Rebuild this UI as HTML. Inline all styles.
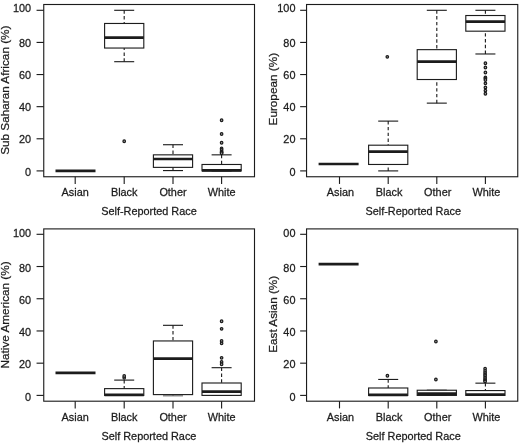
<!DOCTYPE html>
<html><head><meta charset="utf-8"><title>Boxplots</title>
<style>
html,body{margin:0;padding:0;background:#fff;}
svg{display:block;}
text{font-family:"Liberation Sans",Arial,sans-serif;fill:#1c1c1c;stroke:#1c1c1c;stroke-width:0.25px;}
</style></head>
<body>
<svg width="520" height="444" viewBox="0 0 520 444">
<rect width="520" height="444" fill="#fff"/>
<rect x="43.75" y="4.5" width="210.75" height="172.25" fill="#fff" stroke="#1c1c1c" stroke-width="1.12"/>
<line x1="36.55" y1="170.90" x2="43.75" y2="170.90" stroke="#1c1c1c" stroke-width="1.12"/>
<text transform="translate(31.05,175.60) scale(1,1.07)" text-anchor="end" font-size="10.9">0</text>
<line x1="36.55" y1="138.78" x2="43.75" y2="138.78" stroke="#1c1c1c" stroke-width="1.12"/>
<text transform="translate(31.05,143.48) scale(1,1.07)" text-anchor="end" font-size="10.9">20</text>
<line x1="36.55" y1="106.66" x2="43.75" y2="106.66" stroke="#1c1c1c" stroke-width="1.12"/>
<text transform="translate(31.05,111.36) scale(1,1.07)" text-anchor="end" font-size="10.9">40</text>
<line x1="36.55" y1="74.54" x2="43.75" y2="74.54" stroke="#1c1c1c" stroke-width="1.12"/>
<text transform="translate(31.05,79.24) scale(1,1.07)" text-anchor="end" font-size="10.9">60</text>
<line x1="36.55" y1="42.42" x2="43.75" y2="42.42" stroke="#1c1c1c" stroke-width="1.12"/>
<text transform="translate(31.05,47.12) scale(1,1.07)" text-anchor="end" font-size="10.9">80</text>
<line x1="36.55" y1="10.30" x2="43.75" y2="10.30" stroke="#1c1c1c" stroke-width="1.12"/>
<text transform="translate(31.05,12.10) scale(1,1.07)" text-anchor="end" font-size="10.9">100</text>
<line x1="75.2" y1="176.75" x2="75.2" y2="183.95" stroke="#1c1c1c" stroke-width="1.12"/>
<text transform="translate(75.2,195.8) scale(1,1.07)" text-anchor="middle" font-size="10.9">Asian</text>
<line x1="124.2" y1="176.75" x2="124.2" y2="183.95" stroke="#1c1c1c" stroke-width="1.12"/>
<text transform="translate(124.2,195.8) scale(1,1.07)" text-anchor="middle" font-size="10.9">Black</text>
<line x1="173.0" y1="176.75" x2="173.0" y2="183.95" stroke="#1c1c1c" stroke-width="1.12"/>
<text transform="translate(173.0,195.8) scale(1,1.07)" text-anchor="middle" font-size="10.9">Other</text>
<line x1="221.6" y1="176.75" x2="221.6" y2="183.95" stroke="#1c1c1c" stroke-width="1.12"/>
<text transform="translate(221.6,195.8) scale(1,1.07)" text-anchor="middle" font-size="10.9">White</text>
<text transform="translate(148.925,214.5) scale(1,1.07)" text-anchor="middle" font-size="10.9">Self-Reported Race</text>
<text transform="translate(9.2,90.2) rotate(-90)" text-anchor="middle" font-size="11.75">Sub Saharan African (%)</text>
<line x1="55.5" y1="170.90" x2="95.5" y2="170.90" stroke="#1c1c1c" stroke-width="2.7"/>
<line x1="124.2" y1="10.30" x2="124.2" y2="23.47" stroke="#1c1c1c" stroke-width="1.12" stroke-dasharray="3.4 2.4"/>
<line x1="124.2" y1="61.69" x2="124.2" y2="48.04" stroke="#1c1c1c" stroke-width="1.12" stroke-dasharray="3.4 2.4"/>
<line x1="114.2" y1="10.30" x2="134.2" y2="10.30" stroke="#1c1c1c" stroke-width="1.12"/>
<line x1="114.2" y1="61.69" x2="134.2" y2="61.69" stroke="#1c1c1c" stroke-width="1.12"/>
<rect x="104.6" y="23.47" width="39.2" height="24.57" fill="#fff" stroke="#1c1c1c" stroke-width="1.12"/>
<line x1="104.6" y1="37.60" x2="143.8" y2="37.60" stroke="#1c1c1c" stroke-width="2.7"/>
<ellipse cx="124.2" cy="141.19" rx="1.25" ry="1.35" fill="#aaa" stroke="#1c1c1c" stroke-width="1.25"/>
<line x1="173.0" y1="144.72" x2="173.0" y2="154.84" stroke="#1c1c1c" stroke-width="1.12" stroke-dasharray="3.4 2.4"/>
<line x1="173.0" y1="170.58" x2="173.0" y2="167.37" stroke="#1c1c1c" stroke-width="1.12" stroke-dasharray="3.4 2.4"/>
<line x1="163.0" y1="144.72" x2="183.0" y2="144.72" stroke="#1c1c1c" stroke-width="1.12"/>
<line x1="163.0" y1="170.58" x2="183.0" y2="170.58" stroke="#1c1c1c" stroke-width="1.12"/>
<rect x="153.4" y="154.84" width="39.2" height="12.53" fill="#fff" stroke="#1c1c1c" stroke-width="1.12"/>
<line x1="153.4" y1="159.02" x2="192.6" y2="159.02" stroke="#1c1c1c" stroke-width="2.7"/>
<line x1="221.6" y1="154.84" x2="221.6" y2="164.48" stroke="#1c1c1c" stroke-width="1.12" stroke-dasharray="3.4 2.4"/>
<line x1="211.6" y1="154.84" x2="231.6" y2="154.84" stroke="#1c1c1c" stroke-width="1.12"/>
<line x1="211.6" y1="170.90" x2="231.6" y2="170.90" stroke="#1c1c1c" stroke-width="1.12"/>
<rect x="202.0" y="164.48" width="39.2" height="6.42" fill="#fff" stroke="#1c1c1c" stroke-width="1.12"/>
<line x1="202.0" y1="170.42" x2="241.2" y2="170.42" stroke="#1c1c1c" stroke-width="2.7"/>
<ellipse cx="221.6" cy="120.31" rx="1.25" ry="1.35" fill="#aaa" stroke="#1c1c1c" stroke-width="1.25"/>
<ellipse cx="221.6" cy="133.96" rx="1.25" ry="1.35" fill="#aaa" stroke="#1c1c1c" stroke-width="1.25"/>
<ellipse cx="221.6" cy="142.80" rx="1.25" ry="1.35" fill="#aaa" stroke="#1c1c1c" stroke-width="1.25"/>
<ellipse cx="221.6" cy="148.42" rx="1.25" ry="1.35" fill="#aaa" stroke="#1c1c1c" stroke-width="1.25"/>
<ellipse cx="221.6" cy="150.02" rx="1.25" ry="1.35" fill="#aaa" stroke="#1c1c1c" stroke-width="1.25"/>
<ellipse cx="221.6" cy="151.63" rx="1.25" ry="1.35" fill="#aaa" stroke="#1c1c1c" stroke-width="1.25"/>
<ellipse cx="221.6" cy="152.43" rx="1.25" ry="1.35" fill="#aaa" stroke="#1c1c1c" stroke-width="1.25"/>
<ellipse cx="221.6" cy="153.23" rx="1.25" ry="1.35" fill="#aaa" stroke="#1c1c1c" stroke-width="1.25"/>
<rect x="306.55" y="4.5" width="211.2" height="172.25" fill="#fff" stroke="#1c1c1c" stroke-width="1.12"/>
<line x1="300.15000000000003" y1="170.90" x2="306.55" y2="170.90" stroke="#1c1c1c" stroke-width="1.12"/>
<text transform="translate(295.45,175.60) scale(1,1.07)" text-anchor="end" font-size="10.9">0</text>
<line x1="300.15000000000003" y1="138.78" x2="306.55" y2="138.78" stroke="#1c1c1c" stroke-width="1.12"/>
<text transform="translate(295.45,143.48) scale(1,1.07)" text-anchor="end" font-size="10.9">20</text>
<line x1="300.15000000000003" y1="106.66" x2="306.55" y2="106.66" stroke="#1c1c1c" stroke-width="1.12"/>
<text transform="translate(295.45,111.36) scale(1,1.07)" text-anchor="end" font-size="10.9">40</text>
<line x1="300.15000000000003" y1="74.54" x2="306.55" y2="74.54" stroke="#1c1c1c" stroke-width="1.12"/>
<text transform="translate(295.45,79.24) scale(1,1.07)" text-anchor="end" font-size="10.9">60</text>
<line x1="300.15000000000003" y1="42.42" x2="306.55" y2="42.42" stroke="#1c1c1c" stroke-width="1.12"/>
<text transform="translate(295.45,47.12) scale(1,1.07)" text-anchor="end" font-size="10.9">80</text>
<line x1="300.15000000000003" y1="10.30" x2="306.55" y2="10.30" stroke="#1c1c1c" stroke-width="1.12"/>
<text transform="translate(295.45,12.10) scale(1,1.07)" text-anchor="end" font-size="10.9">100</text>
<line x1="339.5" y1="176.75" x2="339.5" y2="183.95" stroke="#1c1c1c" stroke-width="1.12"/>
<text transform="translate(340.41,195.8) scale(1,1.07)" text-anchor="middle" font-size="10.9">Asian</text>
<line x1="388.2" y1="176.75" x2="388.2" y2="183.95" stroke="#1c1c1c" stroke-width="1.12"/>
<text transform="translate(389.11,195.8) scale(1,1.07)" text-anchor="middle" font-size="10.9">Black</text>
<line x1="436.8" y1="176.75" x2="436.8" y2="183.95" stroke="#1c1c1c" stroke-width="1.12"/>
<text transform="translate(437.71000000000004,195.8) scale(1,1.07)" text-anchor="middle" font-size="10.9">Other</text>
<line x1="485.4" y1="176.75" x2="485.4" y2="183.95" stroke="#1c1c1c" stroke-width="1.12"/>
<text transform="translate(486.31,195.8) scale(1,1.07)" text-anchor="middle" font-size="10.9">White</text>
<text transform="translate(413.25,214.5) scale(1,1.07)" text-anchor="middle" font-size="10.9">Self-Reported Race</text>
<text transform="translate(277.2,89.2) rotate(-90)" text-anchor="middle" font-size="11.75">European (%)</text>
<line x1="318.6" y1="163.99" x2="358.6" y2="163.99" stroke="#1c1c1c" stroke-width="2.7"/>
<line x1="388.2" y1="121.11" x2="388.2" y2="145.20" stroke="#1c1c1c" stroke-width="1.12" stroke-dasharray="3.4 2.4"/>
<line x1="388.2" y1="170.90" x2="388.2" y2="164.48" stroke="#1c1c1c" stroke-width="1.12" stroke-dasharray="3.4 2.4"/>
<line x1="378.2" y1="121.11" x2="398.2" y2="121.11" stroke="#1c1c1c" stroke-width="1.12"/>
<line x1="378.2" y1="170.90" x2="398.2" y2="170.90" stroke="#1c1c1c" stroke-width="1.12"/>
<rect x="368.59999999999997" y="145.20" width="39.2" height="19.27" fill="#fff" stroke="#1c1c1c" stroke-width="1.12"/>
<line x1="368.59999999999997" y1="151.63" x2="407.8" y2="151.63" stroke="#1c1c1c" stroke-width="2.7"/>
<ellipse cx="387.3" cy="56.87" rx="1.25" ry="1.35" fill="#aaa" stroke="#1c1c1c" stroke-width="1.25"/>
<line x1="436.8" y1="10.30" x2="436.8" y2="49.65" stroke="#1c1c1c" stroke-width="1.12" stroke-dasharray="3.4 2.4"/>
<line x1="436.8" y1="103.13" x2="436.8" y2="79.52" stroke="#1c1c1c" stroke-width="1.12" stroke-dasharray="3.4 2.4"/>
<line x1="426.8" y1="10.30" x2="446.8" y2="10.30" stroke="#1c1c1c" stroke-width="1.12"/>
<line x1="426.8" y1="103.13" x2="446.8" y2="103.13" stroke="#1c1c1c" stroke-width="1.12"/>
<rect x="417.2" y="49.65" width="39.2" height="29.87" fill="#fff" stroke="#1c1c1c" stroke-width="1.12"/>
<line x1="417.2" y1="61.69" x2="456.40000000000003" y2="61.69" stroke="#1c1c1c" stroke-width="2.7"/>
<line x1="485.4" y1="10.30" x2="485.4" y2="15.52" stroke="#1c1c1c" stroke-width="1.12" stroke-dasharray="3.4 2.4"/>
<line x1="485.4" y1="53.98" x2="485.4" y2="31.18" stroke="#1c1c1c" stroke-width="1.12" stroke-dasharray="3.4 2.4"/>
<line x1="475.4" y1="10.30" x2="495.4" y2="10.30" stroke="#1c1c1c" stroke-width="1.12"/>
<line x1="475.4" y1="53.98" x2="495.4" y2="53.98" stroke="#1c1c1c" stroke-width="1.12"/>
<rect x="465.79999999999995" y="15.52" width="39.2" height="15.66" fill="#fff" stroke="#1c1c1c" stroke-width="1.12"/>
<line x1="465.79999999999995" y1="21.54" x2="505.0" y2="21.54" stroke="#1c1c1c" stroke-width="2.7"/>
<ellipse cx="485.4" cy="63.30" rx="1.25" ry="1.35" fill="#aaa" stroke="#1c1c1c" stroke-width="1.25"/>
<ellipse cx="485.4" cy="67.47" rx="1.25" ry="1.35" fill="#aaa" stroke="#1c1c1c" stroke-width="1.25"/>
<ellipse cx="485.4" cy="72.45" rx="1.25" ry="1.35" fill="#aaa" stroke="#1c1c1c" stroke-width="1.25"/>
<ellipse cx="485.4" cy="77.43" rx="1.25" ry="1.35" fill="#aaa" stroke="#1c1c1c" stroke-width="1.25"/>
<ellipse cx="485.4" cy="78.39" rx="1.25" ry="1.35" fill="#aaa" stroke="#1c1c1c" stroke-width="1.25"/>
<ellipse cx="485.4" cy="80.00" rx="1.25" ry="1.35" fill="#aaa" stroke="#1c1c1c" stroke-width="1.25"/>
<ellipse cx="485.4" cy="83.37" rx="1.25" ry="1.35" fill="#aaa" stroke="#1c1c1c" stroke-width="1.25"/>
<ellipse cx="485.4" cy="87.39" rx="1.25" ry="1.35" fill="#aaa" stroke="#1c1c1c" stroke-width="1.25"/>
<ellipse cx="485.4" cy="90.60" rx="1.25" ry="1.35" fill="#aaa" stroke="#1c1c1c" stroke-width="1.25"/>
<ellipse cx="485.4" cy="93.81" rx="1.25" ry="1.35" fill="#aaa" stroke="#1c1c1c" stroke-width="1.25"/>
<rect x="43.75" y="228.9" width="210.75" height="172.29999999999998" fill="#fff" stroke="#1c1c1c" stroke-width="1.12"/>
<line x1="36.55" y1="395.40" x2="43.75" y2="395.40" stroke="#1c1c1c" stroke-width="1.12"/>
<text transform="translate(31.05,400.70) scale(1,1.07)" text-anchor="end" font-size="10.9">0</text>
<line x1="36.55" y1="363.18" x2="43.75" y2="363.18" stroke="#1c1c1c" stroke-width="1.12"/>
<text transform="translate(31.05,368.48) scale(1,1.07)" text-anchor="end" font-size="10.9">20</text>
<line x1="36.55" y1="330.96" x2="43.75" y2="330.96" stroke="#1c1c1c" stroke-width="1.12"/>
<text transform="translate(31.05,336.26) scale(1,1.07)" text-anchor="end" font-size="10.9">40</text>
<line x1="36.55" y1="298.74" x2="43.75" y2="298.74" stroke="#1c1c1c" stroke-width="1.12"/>
<text transform="translate(31.05,304.04) scale(1,1.07)" text-anchor="end" font-size="10.9">60</text>
<line x1="36.55" y1="266.52" x2="43.75" y2="266.52" stroke="#1c1c1c" stroke-width="1.12"/>
<text transform="translate(31.05,271.82) scale(1,1.07)" text-anchor="end" font-size="10.9">80</text>
<line x1="36.55" y1="234.30" x2="43.75" y2="234.30" stroke="#1c1c1c" stroke-width="1.12"/>
<text transform="translate(31.05,236.80) scale(1,1.07)" text-anchor="end" font-size="10.9">100</text>
<line x1="75.2" y1="401.2" x2="75.2" y2="408.4" stroke="#1c1c1c" stroke-width="1.12"/>
<text transform="translate(75.2,421.0) scale(1,1.07)" text-anchor="middle" font-size="10.9">Asian</text>
<line x1="124.2" y1="401.2" x2="124.2" y2="408.4" stroke="#1c1c1c" stroke-width="1.12"/>
<text transform="translate(124.2,421.0) scale(1,1.07)" text-anchor="middle" font-size="10.9">Black</text>
<line x1="173.0" y1="401.2" x2="173.0" y2="408.4" stroke="#1c1c1c" stroke-width="1.12"/>
<text transform="translate(173.0,421.0) scale(1,1.07)" text-anchor="middle" font-size="10.9">Other</text>
<line x1="221.6" y1="401.2" x2="221.6" y2="408.4" stroke="#1c1c1c" stroke-width="1.12"/>
<text transform="translate(221.6,421.0) scale(1,1.07)" text-anchor="middle" font-size="10.9">White</text>
<text transform="translate(148.925,439.6) scale(1,1.07)" text-anchor="middle" font-size="10.9">Self Reported Race</text>
<text transform="translate(9.2,314.9) rotate(-90)" text-anchor="middle" font-size="11.75">Native American (%)</text>
<line x1="55.5" y1="372.85" x2="95.5" y2="372.85" stroke="#1c1c1c" stroke-width="2.7"/>
<line x1="124.2" y1="380.10" x2="124.2" y2="388.63" stroke="#1c1c1c" stroke-width="1.12" stroke-dasharray="3.4 2.4"/>
<line x1="114.2" y1="380.10" x2="134.2" y2="380.10" stroke="#1c1c1c" stroke-width="1.12"/>
<line x1="114.2" y1="395.40" x2="134.2" y2="395.40" stroke="#1c1c1c" stroke-width="1.12"/>
<rect x="104.6" y="388.63" width="39.2" height="6.77" fill="#fff" stroke="#1c1c1c" stroke-width="1.12"/>
<line x1="104.6" y1="394.92" x2="143.8" y2="394.92" stroke="#1c1c1c" stroke-width="2.7"/>
<ellipse cx="124.2" cy="377.68" rx="1.25" ry="1.35" fill="#aaa" stroke="#1c1c1c" stroke-width="1.25"/>
<ellipse cx="124.2" cy="376.07" rx="1.25" ry="1.35" fill="#aaa" stroke="#1c1c1c" stroke-width="1.25"/>
<line x1="173.0" y1="325.32" x2="173.0" y2="340.95" stroke="#1c1c1c" stroke-width="1.12" stroke-dasharray="3.4 2.4"/>
<line x1="173.0" y1="395.80" x2="173.0" y2="394.59" stroke="#1c1c1c" stroke-width="1.12" stroke-dasharray="3.4 2.4"/>
<line x1="163.0" y1="325.32" x2="183.0" y2="325.32" stroke="#1c1c1c" stroke-width="1.12"/>
<rect x="153.4" y="340.95" width="39.2" height="53.65" fill="#fff" stroke="#1c1c1c" stroke-width="1.12"/>
<line x1="153.4" y1="358.67" x2="192.6" y2="358.67" stroke="#1c1c1c" stroke-width="2.7"/>
<line x1="163.0" y1="395.80" x2="183.0" y2="395.80" stroke="#666" stroke-width="1.12"/>
<line x1="221.6" y1="367.69" x2="221.6" y2="383.00" stroke="#1c1c1c" stroke-width="1.12" stroke-dasharray="3.4 2.4"/>
<line x1="211.6" y1="367.69" x2="231.6" y2="367.69" stroke="#1c1c1c" stroke-width="1.12"/>
<line x1="211.6" y1="395.40" x2="231.6" y2="395.40" stroke="#1c1c1c" stroke-width="1.12"/>
<rect x="202.0" y="383.00" width="39.2" height="12.40" fill="#fff" stroke="#1c1c1c" stroke-width="1.12"/>
<line x1="202.0" y1="391.53" x2="241.2" y2="391.53" stroke="#1c1c1c" stroke-width="2.7"/>
<ellipse cx="221.6" cy="321.29" rx="1.25" ry="1.35" fill="#aaa" stroke="#1c1c1c" stroke-width="1.25"/>
<ellipse cx="221.6" cy="328.87" rx="1.25" ry="1.35" fill="#aaa" stroke="#1c1c1c" stroke-width="1.25"/>
<ellipse cx="221.6" cy="340.95" rx="1.25" ry="1.35" fill="#aaa" stroke="#1c1c1c" stroke-width="1.25"/>
<ellipse cx="221.6" cy="343.36" rx="1.25" ry="1.35" fill="#aaa" stroke="#1c1c1c" stroke-width="1.25"/>
<ellipse cx="221.6" cy="357.86" rx="1.25" ry="1.35" fill="#aaa" stroke="#1c1c1c" stroke-width="1.25"/>
<ellipse cx="221.6" cy="361.89" rx="1.25" ry="1.35" fill="#aaa" stroke="#1c1c1c" stroke-width="1.25"/>
<ellipse cx="221.6" cy="364.31" rx="1.25" ry="1.35" fill="#aaa" stroke="#1c1c1c" stroke-width="1.25"/>
<rect x="306.55" y="228.9" width="211.2" height="172.29999999999998" fill="#fff" stroke="#1c1c1c" stroke-width="1.12"/>
<line x1="300.15000000000003" y1="395.40" x2="306.55" y2="395.40" stroke="#1c1c1c" stroke-width="1.12"/>
<text transform="translate(295.45,400.70) scale(1,1.07)" text-anchor="end" font-size="10.9">0</text>
<line x1="300.15000000000003" y1="363.18" x2="306.55" y2="363.18" stroke="#1c1c1c" stroke-width="1.12"/>
<text transform="translate(295.45,368.48) scale(1,1.07)" text-anchor="end" font-size="10.9">20</text>
<line x1="300.15000000000003" y1="330.96" x2="306.55" y2="330.96" stroke="#1c1c1c" stroke-width="1.12"/>
<text transform="translate(295.45,336.26) scale(1,1.07)" text-anchor="end" font-size="10.9">40</text>
<line x1="300.15000000000003" y1="298.74" x2="306.55" y2="298.74" stroke="#1c1c1c" stroke-width="1.12"/>
<text transform="translate(295.45,304.04) scale(1,1.07)" text-anchor="end" font-size="10.9">60</text>
<line x1="300.15000000000003" y1="266.52" x2="306.55" y2="266.52" stroke="#1c1c1c" stroke-width="1.12"/>
<text transform="translate(295.45,271.82) scale(1,1.07)" text-anchor="end" font-size="10.9">80</text>
<line x1="300.15000000000003" y1="234.30" x2="306.55" y2="234.30" stroke="#1c1c1c" stroke-width="1.12"/>
<text transform="translate(295.45,236.80) scale(1,1.07)" text-anchor="end" font-size="10.9">00</text>
<line x1="339.5" y1="401.2" x2="339.5" y2="408.4" stroke="#1c1c1c" stroke-width="1.12"/>
<text transform="translate(340.41,421.0) scale(1,1.07)" text-anchor="middle" font-size="10.9">Asian</text>
<line x1="388.2" y1="401.2" x2="388.2" y2="408.4" stroke="#1c1c1c" stroke-width="1.12"/>
<text transform="translate(389.11,421.0) scale(1,1.07)" text-anchor="middle" font-size="10.9">Black</text>
<line x1="436.8" y1="401.2" x2="436.8" y2="408.4" stroke="#1c1c1c" stroke-width="1.12"/>
<text transform="translate(437.71000000000004,421.0) scale(1,1.07)" text-anchor="middle" font-size="10.9">Other</text>
<line x1="485.4" y1="401.2" x2="485.4" y2="408.4" stroke="#1c1c1c" stroke-width="1.12"/>
<text transform="translate(486.31,421.0) scale(1,1.07)" text-anchor="middle" font-size="10.9">White</text>
<text transform="translate(413.25,439.6) scale(1,1.07)" text-anchor="middle" font-size="10.9">Self Reported Race</text>
<text transform="translate(277.2,314.3) rotate(-90)" text-anchor="middle" font-size="11.75">East Asian (%)</text>
<line x1="318.6" y1="264.10" x2="358.6" y2="264.10" stroke="#1c1c1c" stroke-width="2.7"/>
<line x1="388.2" y1="379.45" x2="388.2" y2="387.99" stroke="#1c1c1c" stroke-width="1.12" stroke-dasharray="3.4 2.4"/>
<line x1="378.2" y1="379.45" x2="398.2" y2="379.45" stroke="#1c1c1c" stroke-width="1.12"/>
<line x1="378.2" y1="395.40" x2="398.2" y2="395.40" stroke="#1c1c1c" stroke-width="1.12"/>
<rect x="368.59999999999997" y="387.99" width="39.2" height="7.41" fill="#fff" stroke="#1c1c1c" stroke-width="1.12"/>
<line x1="368.59999999999997" y1="394.92" x2="407.8" y2="394.92" stroke="#1c1c1c" stroke-width="2.7"/>
<ellipse cx="387.4" cy="375.75" rx="1.25" ry="1.35" fill="#aaa" stroke="#1c1c1c" stroke-width="1.25"/>
<line x1="426.8" y1="390.24" x2="446.8" y2="390.24" stroke="#1c1c1c" stroke-width="1.12"/>
<line x1="426.8" y1="395.40" x2="446.8" y2="395.40" stroke="#1c1c1c" stroke-width="1.12"/>
<rect x="417.2" y="390.24" width="39.2" height="5.16" fill="#fff" stroke="#1c1c1c" stroke-width="1.12"/>
<line x1="417.2" y1="393.63" x2="456.40000000000003" y2="393.63" stroke="#1c1c1c" stroke-width="2.7"/>
<ellipse cx="435.90000000000003" cy="341.59" rx="1.25" ry="1.35" fill="#aaa" stroke="#1c1c1c" stroke-width="1.25"/>
<ellipse cx="435.90000000000003" cy="379.45" rx="1.25" ry="1.35" fill="#aaa" stroke="#1c1c1c" stroke-width="1.25"/>
<line x1="485.4" y1="383.16" x2="485.4" y2="390.57" stroke="#1c1c1c" stroke-width="1.12" stroke-dasharray="3.4 2.4"/>
<line x1="475.4" y1="383.16" x2="495.4" y2="383.16" stroke="#1c1c1c" stroke-width="1.12"/>
<line x1="475.4" y1="395.40" x2="495.4" y2="395.40" stroke="#1c1c1c" stroke-width="1.12"/>
<rect x="465.79999999999995" y="390.57" width="39.2" height="4.83" fill="#fff" stroke="#1c1c1c" stroke-width="1.12"/>
<line x1="465.79999999999995" y1="394.59" x2="505.0" y2="394.59" stroke="#1c1c1c" stroke-width="2.7"/>
<ellipse cx="485.09999999999997" cy="368.66" rx="1.25" ry="1.35" fill="#aaa" stroke="#1c1c1c" stroke-width="1.25"/>
<ellipse cx="485.09999999999997" cy="370.91" rx="1.25" ry="1.35" fill="#aaa" stroke="#1c1c1c" stroke-width="1.25"/>
<ellipse cx="485.09999999999997" cy="372.85" rx="1.25" ry="1.35" fill="#aaa" stroke="#1c1c1c" stroke-width="1.25"/>
<ellipse cx="485.09999999999997" cy="374.46" rx="1.25" ry="1.35" fill="#aaa" stroke="#1c1c1c" stroke-width="1.25"/>
<ellipse cx="485.09999999999997" cy="376.07" rx="1.25" ry="1.35" fill="#aaa" stroke="#1c1c1c" stroke-width="1.25"/>
<ellipse cx="485.09999999999997" cy="377.68" rx="1.25" ry="1.35" fill="#aaa" stroke="#1c1c1c" stroke-width="1.25"/>
<ellipse cx="485.09999999999997" cy="379.29" rx="1.25" ry="1.35" fill="#aaa" stroke="#1c1c1c" stroke-width="1.25"/>
<ellipse cx="485.09999999999997" cy="380.58" rx="1.25" ry="1.35" fill="#aaa" stroke="#1c1c1c" stroke-width="1.25"/>
<ellipse cx="485.09999999999997" cy="381.38" rx="1.25" ry="1.35" fill="#aaa" stroke="#1c1c1c" stroke-width="1.25"/>
</svg>
</body></html>
